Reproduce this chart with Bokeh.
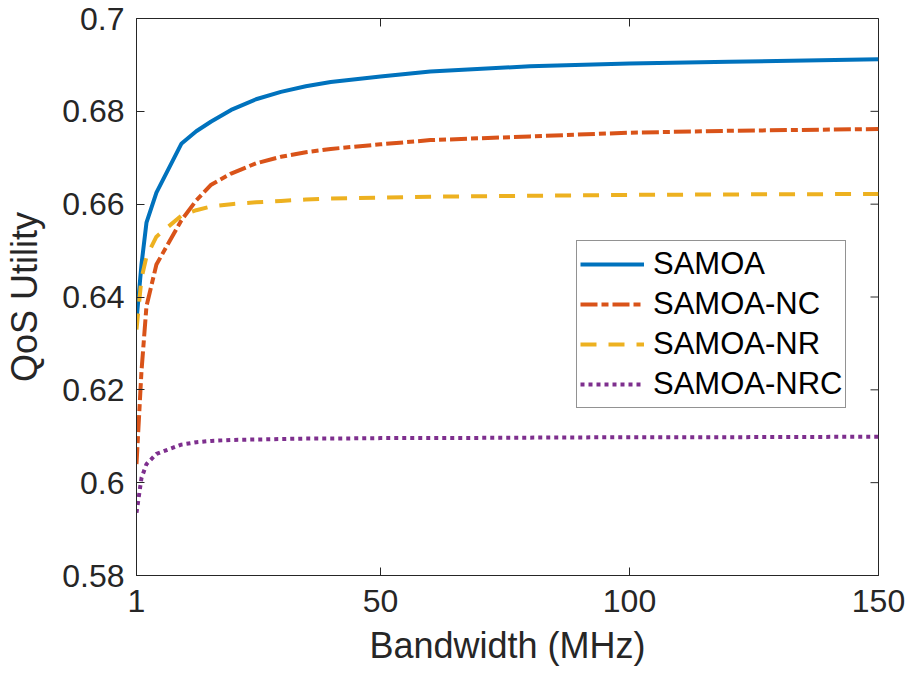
import math
from bokeh.plotting import figure
from bokeh.models import Range1d, FixedTicker
from bokeh.embed import file_html
from bokeh.resources import INLINE

# ---- data ----
bandwidth = [1, 2, 3, 5, 10, 13, 16, 20, 25, 30, 35, 40, 50, 60, 80, 100, 120, 150]
samoa     = [0.6350, 0.6470, 0.6560, 0.6625, 0.6730, 0.6757, 0.6778, 0.6803, 0.6826, 0.6842,
             0.6854, 0.6863, 0.6875, 0.6886, 0.6897, 0.6903, 0.6907, 0.6912]
samoa_nc  = [0.6040, 0.6240, 0.6380, 0.6470, 0.6565, 0.6608, 0.6642, 0.6666, 0.6688, 0.6702,
             0.6712, 0.6719, 0.6729, 0.6738, 0.6746, 0.6754, 0.6758, 0.6762]
samoa_nr  = [0.6330, 0.6440, 0.6487, 0.6530, 0.6575, 0.6587, 0.6595, 0.6600, 0.6604, 0.6607,
             0.6610, 0.6612, 0.6614, 0.6616, 0.6618, 0.6620, 0.6621, 0.6622]
samoa_nrc = [0.5935, 0.6010, 0.6040, 0.6062, 0.6082, 0.6087, 0.6090, 0.6092, 0.6093, 0.6094,
             0.6095, 0.6095, 0.6096, 0.6096, 0.6097, 0.6098, 0.6098, 0.6099]
series_names = ["SAMOA", "SAMOA-NC", "SAMOA-NR", "SAMOA-NRC"]
x_ticks = [1, 50, 100, 150]
y_ticks = [0.58, 0.60, 0.62, 0.64, 0.66, 0.68, 0.70]
y_tick_labels = ["0.58", "0.6", "0.62", "0.64", "0.66", "0.68", "0.7"]
x_min, x_max = 1, 150
y_min, y_max = 0.58, 0.70

FONT = "Liberation Sans"
TXT = "#262626"

p = figure(width=911, height=682, output_backend="svg", toolbar_location=None,
           x_range=Range1d(x_min, x_max), y_range=Range1d(y_min, y_max),
           min_border_left=136, min_border_right=33, min_border_top=18, min_border_bottom=107)
p.background_fill_color = "white"
p.border_fill_color = "white"
p.xgrid.visible = False
p.ygrid.visible = False
p.outline_line_color = TXT
p.outline_line_width = 1

styles = [
    dict(color="#0072BD", line_dash="solid"),
    dict(color="#D95319", line_dash="17 4 7 4"),
    dict(color="#EDB120", line_dash="16 12"),
    dict(color="#7E2F8E", line_dash="4 4"),
]
for ys, name, st in zip([samoa, samoa_nc, samoa_nr, samoa_nrc], series_names, styles):
    p.line(bandwidth, ys, line_width=4, line_color=st["color"], line_dash=st["line_dash"],
           legend_label=name)

# mirrored inward ticks on the right and top edges (box on)
p.scatter([x_max] * len(y_ticks), y_ticks, marker="dash", size=16,
          line_color=TXT, line_width=1)
p.scatter(x_ticks, [y_max] * len(x_ticks), marker="dash", size=16, angle=math.pi / 2,
          line_color=TXT, line_width=1)

def style_axis(ax, ticks):
    ax.ticker = FixedTicker(ticks=ticks)
    ax.axis_line_color = TXT
    ax.major_tick_line_color = TXT
    ax.major_tick_in = 8
    ax.major_tick_out = 0
    ax.minor_tick_line_color = None
    ax.major_label_text_font = FONT
    ax.major_label_text_color = TXT
    ax.major_label_text_font_size = "32px"

xa = p.xaxis[0]
ya = p.yaxis[0]
style_axis(xa, x_ticks)
style_axis(ya, y_ticks)
ya.major_label_overrides = {t: l for t, l in zip(y_ticks, y_tick_labels)}
xa.major_label_standoff = 14
ya.major_label_standoff = 12
xa.axis_label = "Bandwidth (MHz)"
ya.axis_label = "QoS Utility"
for ax in (xa, ya):
    ax.axis_label_text_font = FONT
    ax.axis_label_text_font_size = "36px"
    ax.axis_label_text_font_style = "normal"
    ax.axis_label_text_color = TXT
xa.axis_label_standoff = 10
ya.axis_label_standoff = 14

lg = p.legend[0]
lg.location = (440, 167)
lg.label_text_font = FONT
lg.label_text_font_size = "31px"
lg.label_text_color = "black"
lg.glyph_width = 64
lg.glyph_height = 40
lg.label_height = 40
lg.spacing = 0
lg.padding = 3
lg.margin = 0
lg.label_standoff = 9
lg.border_line_color = TXT
lg.border_line_width = 1
lg.background_fill_alpha = 1

open("out.html", "w").write(file_html(p, INLINE))
